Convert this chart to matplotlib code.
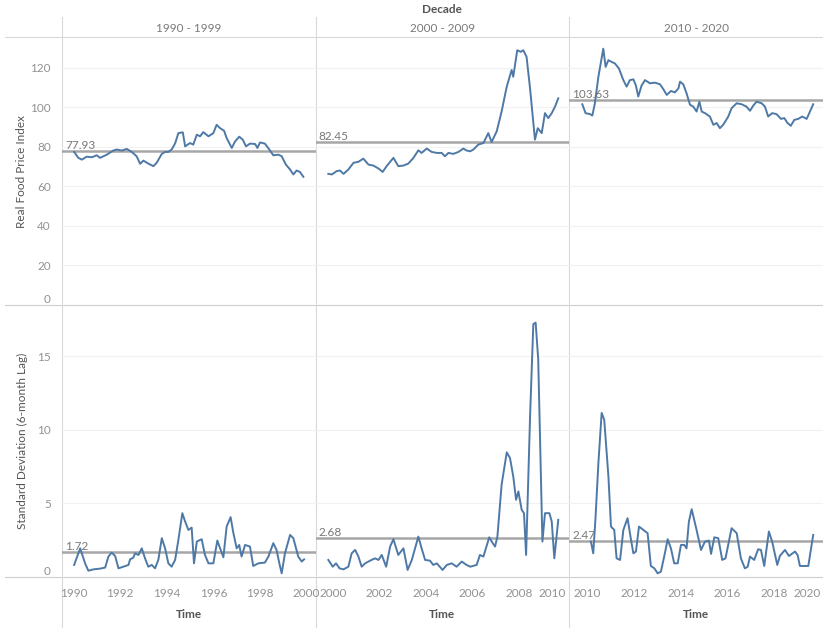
"""Food price index and its 6-month rolling standard deviation, by decade."""

import matplotlib

matplotlib.use("Agg")

import matplotlib.pyplot as plt  # noqa: E402
from matplotlib.lines import Line2D  # noqa: E402
from matplotlib.transforms import blended_transform_factory  # noqa: E402

plt.rcParams["font.family"] = ["Lato", "DejaVu Sans"]

decades = ["1990 - 1999", "2000 - 2009", "2010 - 2020"]
price_means = [77.93, 82.45, 103.63]
sd_means = [1.72, 2.68, 2.47]
x_ticks = [
    [1990, 1992, 1994, 1996, 1998, 2000],
    [2000, 2002, 2004, 2006, 2008, 2010],
    [2010, 2012, 2014, 2016, 2018, 2020],
]
price_ticks = [0, 20, 40, 60, 80, 100, 120]
sd_ticks = [0, 5, 10, 15]

# Real food price index
price_t_90s = [
    1990.03, 1990.21, 1990.36, 1990.57, 1990.79, 1991.00, 1991.14, 1991.43, 1991.71, 1991.86,
    1992.07, 1992.29, 1992.50, 1992.71, 1992.86, 1993.00, 1993.21, 1993.43, 1993.57, 1993.79,
    1993.93, 1994.07, 1994.21, 1994.36, 1994.50, 1994.69, 1994.79, 1995.00, 1995.14, 1995.29,
    1995.43, 1995.57, 1995.79, 1996.00, 1996.14, 1996.29, 1996.46, 1996.57, 1996.79, 1996.93,
    1997.11, 1997.26, 1997.40, 1997.57, 1997.79, 1997.89, 1998.00, 1998.21, 1998.40, 1998.57,
    1998.79, 1998.93, 1999.11, 1999.29, 1999.43, 1999.57, 1999.71, 1999.86,
]
price_v_90s = [
    77.4, 74.4, 73.5, 75.0, 74.7, 75.7, 74.4, 76.0, 78.1, 78.6,
    78.1, 78.9, 77.4, 75.2, 71.4, 73.0, 71.5, 70.2, 71.9, 76.4,
    77.4, 77.4, 78.6, 81.7, 86.9, 87.3, 80.2, 81.9, 81.1, 86.1,
    85.3, 87.4, 85.3, 86.9, 91.1, 89.4, 88.1, 84.4, 79.4, 82.7,
    85.1, 83.6, 80.2, 81.6, 81.4, 79.4, 82.2, 81.6, 78.6, 75.7,
    76.0, 75.2, 71.0, 68.5, 66.0, 68.0, 67.3, 64.8,
]
price_t_00s = [
    1999.81, 1999.96, 2000.17, 2000.31, 2000.46, 2000.67, 2000.89, 2001.10, 2001.31, 2001.53,
    2001.74, 2001.96, 2002.14, 2002.31, 2002.60, 2002.81, 2003.03, 2003.24, 2003.46, 2003.67,
    2003.81, 2004.03, 2004.24, 2004.46, 2004.67, 2004.81, 2004.96, 2005.17, 2005.39, 2005.60,
    2005.74, 2005.89, 2006.03, 2006.24, 2006.46, 2006.67, 2006.81, 2007.03, 2007.24, 2007.46,
    2007.67, 2007.74, 2007.91, 2008.06, 2008.17, 2008.31, 2008.46, 2008.67, 2008.79, 2008.96,
    2009.10, 2009.24, 2009.39, 2009.53, 2009.67,
]
price_v_00s = [
    66.3, 66.0, 67.7, 68.0, 66.3, 68.5, 71.9, 72.4, 74.0, 71.0,
    70.5, 69.0, 67.3, 70.2, 74.4, 70.2, 70.5, 71.5, 74.4, 78.2,
    76.9, 79.1, 77.4, 76.9, 76.9, 75.2, 76.9, 76.4, 77.4, 79.1,
    78.1, 77.7, 78.6, 81.1, 81.9, 86.9, 82.4, 87.8, 97.8, 110.4,
    118.8, 115.4, 128.8, 128.0, 128.8, 125.5, 109.5, 83.6, 89.4, 86.9,
    97.0, 94.5, 97.0, 100.3, 104.5,
]
price_t_10s = [
    2009.77, 2009.91, 2010.10, 2010.20, 2010.31, 2010.46, 2010.67, 2010.77, 2010.89, 2011.03,
    2011.17, 2011.34, 2011.53, 2011.67, 2011.81, 2011.96, 2012.07, 2012.17, 2012.31, 2012.46,
    2012.67, 2012.89, 2013.10, 2013.24, 2013.39, 2013.57, 2013.74, 2013.89, 2013.96, 2014.10,
    2014.24, 2014.39, 2014.53, 2014.67, 2014.79, 2014.89, 2015.03, 2015.24, 2015.39, 2015.53,
    2015.67, 2015.81, 2016.03, 2016.17, 2016.39, 2016.60, 2016.81, 2016.96, 2017.10, 2017.24,
    2017.46, 2017.60, 2017.74, 2017.91, 2018.10, 2018.29, 2018.43, 2018.57, 2018.71, 2018.86,
    2019.03, 2019.20, 2019.39, 2019.67,
]
price_v_10s = [
    101.5, 97.0, 96.5, 95.8, 102.0, 115.4, 129.6, 120.4, 123.8, 122.9,
    122.1, 119.6, 113.7, 110.4, 113.7, 114.1, 110.9, 105.4, 110.9, 113.7,
    112.1, 112.4, 111.6, 109.2, 106.2, 108.2, 107.5, 109.5, 112.9, 111.6,
    107.0, 101.2, 100.3, 97.8, 102.8, 97.8, 97.0, 95.3, 91.1, 92.0,
    89.4, 91.1, 95.3, 99.5, 102.0, 101.5, 100.3, 98.2, 100.8, 102.8,
    102.0, 100.3, 95.3, 97.0, 96.5, 94.1, 94.5, 92.0, 90.6, 93.6,
    94.1, 95.3, 94.1, 101.5,
]

# Standard deviation with a 6-month lag
sd_t_90s = [
    1990.03, 1990.29, 1990.50, 1990.64, 1990.86, 1991.14, 1991.36, 1991.50, 1991.64, 1991.79,
    1991.93, 1992.14, 1992.36, 1992.43, 1992.57, 1992.64, 1992.79, 1992.93, 1993.07, 1993.21,
    1993.36, 1993.50, 1993.64, 1993.79, 1993.93, 1994.07, 1994.21, 1994.36, 1994.50, 1994.67,
    1994.79, 1994.93, 1995.07, 1995.17, 1995.29, 1995.50, 1995.64, 1995.79, 1996.00, 1996.17,
    1996.29, 1996.43, 1996.57, 1996.74, 1996.86, 1997.00, 1997.11, 1997.21, 1997.36, 1997.57,
    1997.71, 1997.93, 1998.21, 1998.36, 1998.57, 1998.71, 1998.83, 1998.93, 1999.07, 1999.29,
    1999.43, 1999.64, 1999.79, 1999.89,
]
sd_v_90s = [
    0.82, 1.95, 0.93, 0.43, 0.52, 0.57, 0.64, 1.39, 1.66, 1.43,
    0.59, 0.70, 0.82, 1.20, 1.32, 1.61, 1.50, 1.95, 1.27, 0.70,
    0.82, 0.59, 1.16, 2.64, 1.95, 0.93, 0.70, 1.16, 2.52, 4.34,
    3.77, 3.20, 3.36, 0.93, 2.41, 2.57, 1.50, 0.93, 0.93, 2.48,
    1.95, 1.34, 3.43, 4.07, 2.98, 1.95, 2.18, 1.39, 2.18, 2.07,
    0.75, 0.93, 0.98, 1.39, 2.30, 1.84, 0.93, 0.25, 1.61, 2.86,
    2.64, 1.39, 1.05, 1.20,
]
sd_t_00s = [
    1999.81, 2000.00, 2000.14, 2000.29, 2000.46, 2000.67, 2000.81, 2000.96, 2001.10, 2001.24,
    2001.39, 2001.60, 2001.81, 2001.96, 2002.10, 2002.29, 2002.46, 2002.60, 2002.81, 2003.03,
    2003.21, 2003.39, 2003.57, 2003.67, 2003.81, 2003.96, 2004.17, 2004.31, 2004.46, 2004.71,
    2004.89, 2005.10, 2005.31, 2005.53, 2005.74, 2005.89, 2006.17, 2006.31, 2006.46, 2006.71,
    2006.86, 2006.96, 2007.06, 2007.24, 2007.46, 2007.60, 2007.74, 2007.86, 2007.96, 2008.10,
    2008.20, 2008.29, 2008.46, 2008.60, 2008.70, 2008.81, 2008.99, 2009.10, 2009.29, 2009.39,
    2009.50, 2009.67,
]
sd_v_00s = [
    1.16, 0.70, 0.93, 0.59, 0.52, 0.70, 1.61, 1.84, 1.39, 0.70,
    0.93, 1.11, 1.27, 1.16, 1.50, 0.70, 2.07, 2.57, 1.50, 1.95,
    0.48, 1.16, 2.18, 2.75, 1.95, 1.16, 1.11, 0.82, 0.93, 0.48,
    0.82, 0.93, 0.70, 1.05, 0.82, 0.70, 0.82, 1.50, 1.39, 2.70,
    2.30, 2.07, 2.75, 6.27, 8.48, 8.09, 6.84, 5.25, 5.82, 4.57,
    4.34, 1.50, 10.90, 17.20, 17.30, 14.80, 2.41, 4.34, 4.34, 3.77,
    1.27, 3.89,
]
sd_t_10s = [
    2010.14, 2010.24, 2010.34, 2010.46, 2010.60, 2010.71, 2010.89, 2011.00, 2011.14, 2011.24,
    2011.39, 2011.53, 2011.71, 2011.86, 2011.96, 2012.07, 2012.20, 2012.39, 2012.57, 2012.71,
    2012.86, 2013.00, 2013.14, 2013.31, 2013.43, 2013.57, 2013.71, 2013.86, 2014.00, 2014.14,
    2014.24, 2014.34, 2014.46, 2014.67, 2014.86, 2015.03, 2015.20, 2015.29, 2015.43, 2015.60,
    2015.77, 2015.91, 2016.17, 2016.39, 2016.57, 2016.74, 2016.86, 2016.96, 2017.14, 2017.31,
    2017.43, 2017.57, 2017.77, 2017.91, 2018.13, 2018.24, 2018.46, 2018.63, 2018.89, 2019.00,
    2019.10, 2019.46, 2019.67,
]
sd_v_10s = [
    2.41, 1.61, 4.11, 7.75, 11.16, 10.70, 6.84, 3.43, 3.20, 1.27,
    1.16, 3.20, 4.00, 2.52, 1.61, 1.73, 3.43, 3.20, 2.98, 0.75,
    0.59, 0.25, 0.36, 1.61, 2.57, 1.95, 0.93, 0.93, 2.18, 2.18,
    1.95, 3.77, 4.61, 3.20, 1.84, 2.41, 2.48, 1.57, 2.70, 2.64,
    1.16, 1.27, 3.32, 2.98, 1.27, 0.59, 0.70, 1.39, 1.16, 1.89,
    1.84, 0.75, 3.09, 2.41, 0.82, 1.43, 1.84, 1.43, 1.73, 1.50,
    0.75, 0.75, 2.86,
]

price_series = [(price_t_90s, price_v_90s), (price_t_00s, price_v_00s), (price_t_10s, price_v_10s)]
sd_series = [(sd_t_90s, sd_v_90s), (sd_t_00s, sd_v_00s), (sd_t_10s, sd_v_10s)]

W, H = 823, 628
COL_EDGES = [62, 315.5, 569, 823]
ROW_EDGES = [37, 305, 577]
X_LIMITS = [(1989.51, 2000.38), (1999.26, 2010.13), (2009.20, 2020.09)]

LINE_BLUE = "#4e79a7"
MEAN_GREY = "#a6a6a6"
RULE_GREY = "#d9d9d9"
TICK_GREY = "#929292"
TEXT_DARK = "#555555"

fig = plt.figure(figsize=(W / 100, H / 100), dpi=100)
fig.patch.set_facecolor("white")


def _axes(x0, y0, x1, y1):
    """Axes placed by pixel box (top-left origin)."""
    return fig.add_axes([x0 / W, 1 - y1 / H, (x1 - x0) / W, (y1 - y0) / H])


def _rule(x0, y0, x1, y1, color=RULE_GREY, lw=0.8):
    fig.add_artist(
        Line2D([x0 / W, x1 / W], [1 - y0 / H, 1 - y1 / H], color=color, lw=lw, zorder=0)
    )


def _pane(ax, col, series, mean, yticks, ylim, first_row):
    t, v = series
    ax.set_facecolor("none")
    for side in ax.spines.values():
        side.set_visible(False)
    ax.set_xlim(*X_LIMITS[col])
    ax.set_ylim(*ylim)
    ax.set_yticks(yticks)
    ax.grid(axis="y", color="#f1f1f1", lw=0.8)
    ax.set_axisbelow(True)
    ax.tick_params(length=0, labelsize=8.5, labelcolor=TICK_GREY, pad=8)
    ax.tick_params(axis="y", labelleft=(col == 0))
    for lab in ax.get_yticklabels():
        if lab.get_text() in ("0", "−0"):
            lab.set_va("bottom")
    if first_row:
        ax.set_xticks([])
    else:
        ax.set_xticks(x_ticks[col])
        ax.set_xticklabels([str(x) for x in x_ticks[col]])
        if col > 0:
            ax.get_xticklabels()[-1].set_ha("right")
    ax.axhline(mean, color=MEAN_GREY, lw=1.8, zorder=2)
    ax.plot(t, v, color=LINE_BLUE, lw=1.4, zorder=3, solid_joinstyle="round")
    trans = blended_transform_factory(ax.transAxes, ax.transData)
    ax.text(0.012, mean, f"{mean:.2f}", transform=trans, va="bottom", ha="left",
            fontsize=8.5, color="#777777", zorder=4)


for col in range(3):
    x0, x1 = COL_EDGES[col], COL_EDGES[col + 1]
    top = _axes(x0, ROW_EDGES[0], x1, ROW_EDGES[1])
    _pane(top, col, price_series[col], price_means[col], price_ticks, (0, 135.5), True)
    bottom = _axes(x0, ROW_EDGES[1], x1, ROW_EDGES[2])
    _pane(bottom, col, sd_series[col], sd_means[col], sd_ticks, (0, 18.5), False)
    cx = (x0 + x1) / 2
    fig.text(cx / W, 1 - 28 / H, decades[col], ha="center", va="center",
             fontsize=8.5, color="#7a7a7a")
    fig.text(cx / W, 1 - 615 / H, "Time", ha="center", va="center",
             fontsize=8.5, color=TEXT_DARK, fontweight="bold")

# header, row dividers and column dividers
for y in ROW_EDGES:
    _rule(5, y, W, y, color="#cfcfcf" if y != 37 else RULE_GREY)
for x in COL_EDGES[:3]:
    _rule(x, 17, x, H)

fig.text(442 / W, 1 - 9.5 / H, "Decade", ha="center", va="center",
         fontsize=8.5, color=TEXT_DARK, fontweight="bold")
fig.text(22 / W, 1 - 171 / H, "Real Food Price Index", rotation=90,
         ha="center", va="center", fontsize=8.5, color=TEXT_DARK)
fig.text(22 / W, 1 - 441 / H, "Standard Deviation (6-month Lag)", rotation=90,
         ha="center", va="center", fontsize=8.5, color=TEXT_DARK)

fig.savefig("out.png", dpi=100, facecolor="white")
